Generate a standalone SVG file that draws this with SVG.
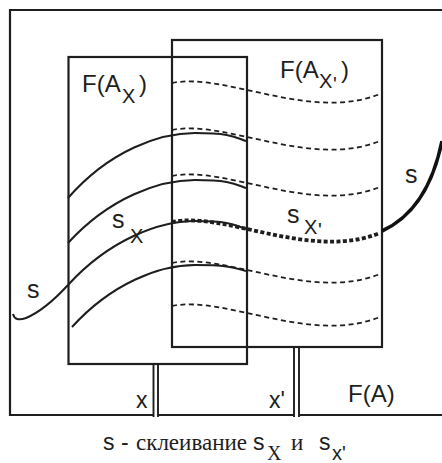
<svg xmlns="http://www.w3.org/2000/svg" width="442" height="463" viewBox="0 0 442 463">
<style>
.ln{fill:none;stroke:#1e1e1e;stroke-width:2.2}
.sol{fill:none;stroke:#1e1e1e;stroke-width:2}
.dsh{fill:none;stroke:#1e1e1e;stroke-width:1.8;stroke-dasharray:5 3.5}
.dot{fill:none;stroke:#1e1e1e;stroke-width:3.8;stroke-dasharray:4 2.4}
.thk{fill:none;stroke:#111;stroke-width:3.6}
.t{font-family:"Liberation Sans",Arial,sans-serif;fill:#1e1e1e}
.sf{font-family:"Liberation Serif","Times New Roman",serif;fill:#1e1e1e}
</style>
<rect width="442" height="463" fill="#fff"/>
<g id="frame-FA">
<path class="ln" d="M442,10 H10 V415 H153.5 M158,415 H294 M299,415 H442"/>
<text class="t" font-size="24" x="348" y="402">F(A)</text>
</g>
<g id="box-Ax">
<rect class="ln" x="68.5" y="57" width="178.5" height="307"/>
<text class="t" font-size="24" x="82" y="92">F(A<tspan font-size="20" x="122" y="103">X</tspan><tspan x="139" y="92">)</tspan></text>
</g>
<g id="box-Ax1">
<rect class="ln" x="172" y="40" width="210" height="307"/>
<text class="t" font-size="24" x="280" y="78">F(A<tspan font-size="20" x="319" y="88">X</tspan><tspan font-size="20" x="333" y="91">'</tspan><tspan x="341" y="78">)</tspan></text>
</g>
<g id="connectors">
<path class="ln" style="stroke-width:1.9" d="M153.5,364 V417 M158,364 V417 M294,347 V417 M299,347 V417"/>
<path class="sol" d="M68,198 C110,150 160,133 195,133 S235,137 246,141"/>
<path class="sol" d="M68,243 C110,197 160,180 195,180 S235,184 246,188"/>
<path class="sol" d="M68,285 C110,239 160,221 195,221 S235,225 246,229"/>
<path class="sol" d="M72,327 C112,283 160,265 195,265 S235,268 246,271"/>
<path class="dsh" d="M172,83 C225,72 310,122 380,94"/>
<path class="dsh" d="M172,130 C225,119 310,169 380,141"/>
<path class="dsh" d="M172,176 C225,165 310,215 380,187"/>
<path class="dot" d="M172,222 C225,211 310,261 380,233"/>
<path class="dsh" d="M172,263 C225,252 310,302 380,274"/>
<path class="dsh" d="M172,306 C225,295 310,345 380,317"/>
<path class="sol" d="M13,314 Q15,322 26,318 Q45,310 68,285"/>
<path class="thk" d="M382,231 Q428,210 442,141"/>
</g>
<g id="labels">
<text class="t" font-size="25" x="27" y="298">s</text>
<text class="t" font-size="25" x="405" y="183">s</text>
<text class="t" font-size="25" x="112" y="228">s<tspan font-size="20" x="130" y="243">X</tspan></text>
<text class="t" font-size="25" x="287" y="223">s<tspan font-size="20" x="304" y="234">X</tspan><tspan font-size="20" x="318" y="237">'</tspan></text>
<text class="t" font-size="23" x="136" y="408">x</text>
<text class="t" font-size="23" x="269" y="408">x'</text>
</g>
<g id="caption">
<text class="t" font-size="23" x="103" y="450">s</text>
<text class="t" font-size="23" x="121" y="450">-</text>
<text class="sf" font-size="23" x="136" y="450">склеивание</text>
<text class="t" font-size="23" x="253" y="450">s</text>
<text class="sf" font-size="20" x="267" y="460">X</text>
<text class="sf" font-size="23" x="291" y="450">и</text>
<text class="t" font-size="23" x="319" y="450">s</text>
<text class="t" font-size="20" x="332" y="460">x'</text>
</g>
</svg>
